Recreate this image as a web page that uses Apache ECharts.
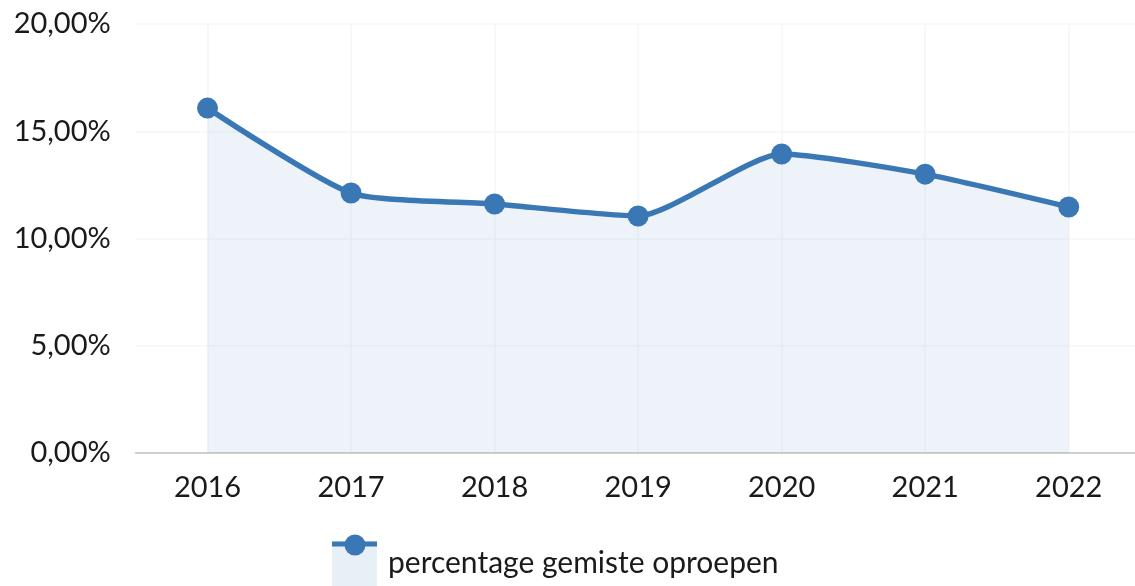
<!DOCTYPE html>
<html>
<head>
<meta charset="utf-8">
<script src="https://cdn.jsdelivr.net/npm/echarts@6/dist/echarts.min.js"></script>
<style>
  html, body { margin: 0; padding: 0; background: #fff; overflow: hidden; }
  /* the plot area runs a few pixels past the right edge of the window */
  #chart { width: 1141px; height: 586px; }
</style>
</head>
<body>
<div id="chart"></div>
<script>
// Jaren op de x-as
const years = ['2016', '2017', '2018', '2019', '2020', '2021', '2022'];
// Percentage gemiste oproepen per jaar (%)
const missedCallsPct = [16.08, 12.12, 11.61, 11.05, 13.94, 13.0, 11.47];
const seriesName = 'percentage gemiste oproepen';

const lineColor = '#3a78b5';
const areaColor = 'rgba(58,120,181,0.12)';
const textColor = '#1a1a1a';
const fontFamily = 'Lato, "Noto Sans", sans-serif';

const chart = echarts.init(document.getElementById('chart'), null, { renderer: 'canvas' });

chart.setOption({
  animation: false,
  textStyle: { fontFamily: fontFamily },
  grid: { left: 135.75, right: 0.5, top: 24, bottom: 133, containLabel: false },
  xAxis: {
    type: 'category',
    data: years,
    boundaryGap: true,
    axisLine: { show: true, lineStyle: { color: '#cfcfcf', width: 2 } },
    axisTick: { show: false },
    axisLabel: { color: textColor, fontSize: 29, margin: 20, fontFamily: fontFamily },
    splitLine: { show: true, alignWithLabel: true, lineStyle: { color: '#f5f6f8', width: 1.5 } }
  },
  yAxis: {
    type: 'value',
    min: 0,
    max: 20,
    interval: 5,
    axisLine: { show: false },
    axisTick: { show: false },
    axisLabel: {
      color: textColor,
      fontSize: 29,
      margin: 25,
      fontFamily: fontFamily,
      formatter: v => v.toFixed(2).replace('.', ',') + '%'
    },
    splitLine: { show: true, lineStyle: { color: '#f5f6f8', width: 1.5 } }
  },
  legend: {
    left: 332,
    top: 541,
    padding: 0,
    itemWidth: 45,
    itemHeight: 45,
    selectedMode: false,
    textStyle: { color: textColor, fontSize: 30, fontFamily: fontFamily, padding: [0, 0, 0, 6] },
    data: [{ name: seriesName, icon: 'rect', itemStyle: { color: 'rgb(232,240,247)', borderWidth: 0 } }]
  },
  graphic: [
    {
      type: 'line',
      shape: { x1: 332, y1: 544, x2: 377, y2: 544 },
      style: { stroke: lineColor, lineWidth: 5 },
      z: 100
    },
    {
      type: 'circle',
      shape: { cx: 355, cy: 545, r: 10.5 },
      style: { fill: lineColor },
      z: 101
    }
  ],
  series: [{
    name: seriesName,
    type: 'line',
    data: missedCallsPct,
    smooth: 0.2,
    symbol: 'circle',
    symbolSize: 21,
    showSymbol: true,
    lineStyle: { color: lineColor, width: 5.5 },
    itemStyle: { color: lineColor },
    areaStyle: { color: areaColor },
    emphasis: { disabled: true }
  }]
});
</script>
</body>
</html>
